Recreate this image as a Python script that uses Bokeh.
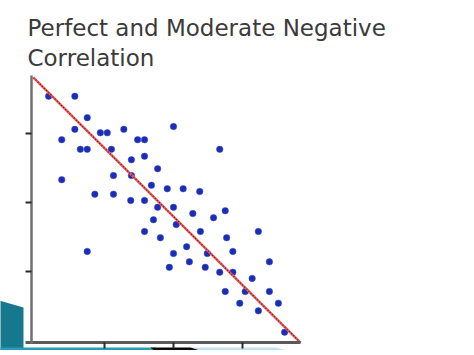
from bokeh.plotting import figure
from bokeh.models import Range1d, FixedTicker, Label
from bokeh.embed import file_html
from bokeh.resources import INLINE

# Scatter data (tick spacing = 1 unit)
x_vals = [0.19, 0.57, 0.75, 0.57, 0.38, 0.94, 1.04, 1.28, 0.65, 0.75,
          1.10, 1.48, 1.58, 1.39, 1.58, 1.77, 2.00, 2.67, 0.38, 1.13,
          1.39, 1.68, 1.91, 2.14, 2.38, 0.86, 1.13, 1.38, 1.58, 1.77,
          2.00, 2.75, 1.71, 2.04, 2.28, 2.58, 1.58, 1.81, 2.39, 2.77,
          3.23, 0.75, 2.19, 2.00, 2.49, 2.86, 2.23, 3.39, 1.94, 2.46,
          2.67, 2.86, 3.14, 2.75, 3.04, 3.39, 2.96, 3.52, 3.23, 3.61]
y_vals = [3.54, 3.54, 3.23, 3.06, 2.91, 3.01, 3.01, 3.06, 2.77, 2.77,
          2.77, 2.91, 2.91, 2.62, 2.67, 2.49, 3.10, 2.77, 2.33, 2.39,
          2.39, 2.25, 2.20, 2.20, 2.16, 2.12, 2.12, 2.03, 2.03, 1.93,
          1.93, 1.88, 1.75, 1.68, 1.84, 1.78, 1.58, 1.49, 1.58, 1.49,
          1.58, 1.29, 1.36, 1.26, 1.26, 1.29, 1.14, 1.14, 1.06, 1.06,
          0.99, 0.99, 0.90, 0.71, 0.71, 0.71, 0.54, 0.54, 0.43, 0.12]

# Perfect negative correlation line
line_x = [-0.03, 3.84]
line_y = [3.81, -0.03]

x_ticks = [1, 2, 3]
y_ticks = [1, 2, 3]

title_lines = ["Perfect and Moderate Negative", "Correlation"]

# slide decorations
deco_side_x = [-0.6, -0.174, -0.174, -0.6]
deco_side_y = [0.60, 0.478, -0.3, -0.3]
deco_band_x = [-0.6, 1.74, 1.74, -0.6]
deco_band_y = [-0.101, -0.101, -0.3, -0.3]
deco_dark_x = [1.667, 2.246, 2.609, 1.81]
deco_dark_y = [-0.101, -0.101, -0.217, -0.217]
deco_light_x = [2.246, 3.478, 3.9, 2.609]
deco_light_y = [-0.101, -0.101, -0.217, -0.217]

p = figure(width=458, height=350,
           x_range=Range1d(-0.5072, 6.1304), y_range=Range1d(-0.1449, 4.9275),
           output_backend="svg", toolbar_location=None, min_border=0,
           background_fill_color="white", border_fill_color="white")
p.outline_line_color = None
p.grid.visible = False

# decorations
p.patch(deco_side_x, deco_side_y, fill_color="#16788c", line_color=None)
p.patch(deco_band_x, deco_band_y, fill_color="#2a9bb5", line_color=None)
p.patch(deco_light_x, deco_light_y, fill_color="#bfe3ee", line_color=None)
p.patch(deco_dark_x, deco_dark_y, fill_color="#0a0a0a", line_color=None)

# axes at fixed locations
p.xaxis.fixed_location = -0.03
p.yaxis.fixed_location = -0.058
p.xaxis.bounds = (-0.14, 3.84)
p.yaxis.bounds = (-0.04, 3.84)
p.xaxis.ticker = FixedTicker(ticks=x_ticks)
p.yaxis.ticker = FixedTicker(ticks=y_ticks)
for ax in (p.xaxis, p.yaxis):
    ax.major_tick_in = 0
    ax.major_tick_out = 6
    ax.minor_tick_out = 0
    ax.minor_tick_in = 0
    ax.major_tick_line_color = "#2a2a2a"
    ax.major_tick_line_width = 2
    ax.major_label_text_color = None
p.xaxis.axis_line_color = "#5a5a5a"
p.xaxis.axis_line_width = 3
p.yaxis.axis_line_color = "#707070"
p.yaxis.axis_line_width = 2.5

# scatter points
p.scatter(x_vals, y_vals, size=6.5, fill_color="#1a2db5", line_color="#3a4ad0",
          line_width=0.5)

# correlation line: red with dark dotted overlay
p.line(line_x, line_y, line_color="#e85a5a", line_width=2.5)
p.line(line_x, line_y, line_color="#7a1010", line_width=1.2, line_dash="1 2")

# title as two lines of text
for i, t in enumerate(title_lines):
    p.add_layout(Label(x=-0.116, y=4.532 - 0.435 * i, text=t,
                       text_font="DejaVu Sans", text_font_size="23px",
                       text_color="#3a3a3a", text_baseline="alphabetic"))

open("out.html", "w").write(file_html(p, INLINE))
